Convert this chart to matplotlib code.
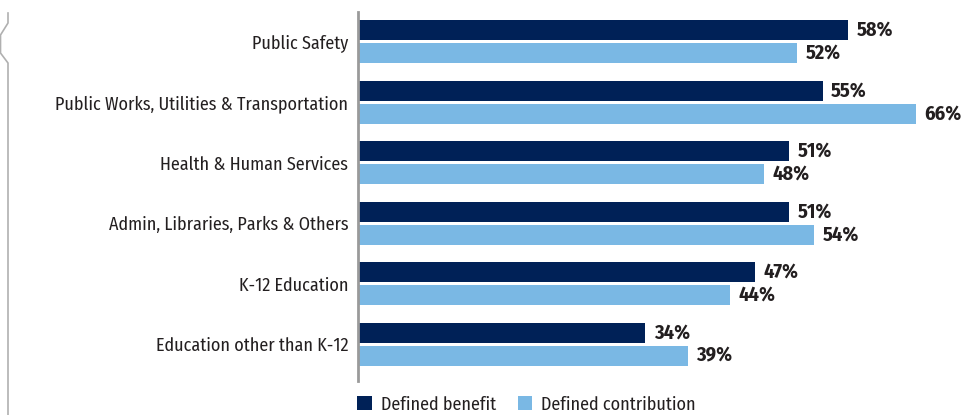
import matplotlib.pyplot as plt
import matplotlib.lines as mlines
from matplotlib.patches import Patch
import numpy as np

categories = [
    "Public Safety",
    "Public Works, Utilities & Transportation",
    "Health & Human Services",
    "Admin, Libraries, Parks & Others",
    "K-12 Education",
    "Education other than K-12",
]
defined_benefit = [58, 55, 51, 51, 47, 34]
defined_contribution = [52, 66, 48, 54, 44, 39]
series_names = ["Defined benefit", "Defined contribution"]

DARK = "#002157"
LIGHT = "#7ab8e4"
TEXT = "#231f20"

plt.rcParams["font.family"] = ["Fira Sans Condensed", "DejaVu Sans"]

fig = plt.figure(figsize=(9.65, 4.15), dpi=100)
ax = fig.add_axes([358 / 965, 1 - 381 / 415, 607 / 965, 369 / 415])

y = np.arange(len(categories))
h = 0.33
off = 0.19
ax.barh(y - off, defined_benefit, height=h, color=DARK)
ax.barh(y + off, defined_contribution, height=h, color=LIGHT)

for yi, v in zip(y - off, defined_benefit):
    ax.text(v + 1.0, yi, f"{v}%", va="center", ha="left",
            fontsize=14.5, fontweight="bold", color=TEXT)
for yi, v in zip(y + off, defined_contribution):
    ax.text(v + 1.0, yi, f"{v}%", va="center", ha="left",
            fontsize=14.5, fontweight="bold", color=TEXT)

ax.set_xlim(0, 607 / 8.45)
ax.set_ylim(5.61, -0.49)
ax.set_yticks(y)
ax.set_yticklabels(categories, fontsize=13, color=TEXT)
ax.tick_params(axis="y", length=0, pad=7)
ax.set_xticks([])
for side in ["top", "right", "bottom"]:
    ax.spines[side].set_visible(False)
ax.spines["left"].set_color("#9a9a9a")
ax.spines["left"].set_linewidth(2)

# bracket on the left edge
bx = [8 / 965, 8 / 965, 0.5 / 965, 0.5 / 965, 8 / 965, 8 / 965]
by = [1 - 13 / 415, 1 - 23 / 415, 1 - 35 / 415, 1 - 53 / 415, 1 - 63 / 415, 0]
fig.add_artist(mlines.Line2D(bx, by, transform=fig.transFigure,
                             color="#b0b0b0", lw=1.2))

handles = [Patch(facecolor=DARK, label=series_names[0]),
           Patch(facecolor=LIGHT, label=series_names[1])]
fig.legend(handles=handles, loc="lower left", bbox_to_anchor=(341 / 965, -0.035),
           ncol=2, frameon=False, fontsize=13, handlelength=0.8, handleheight=0.8,
           handletextpad=0.5, columnspacing=1.2, labelcolor=TEXT)

fig.savefig("out.png", dpi=100)
